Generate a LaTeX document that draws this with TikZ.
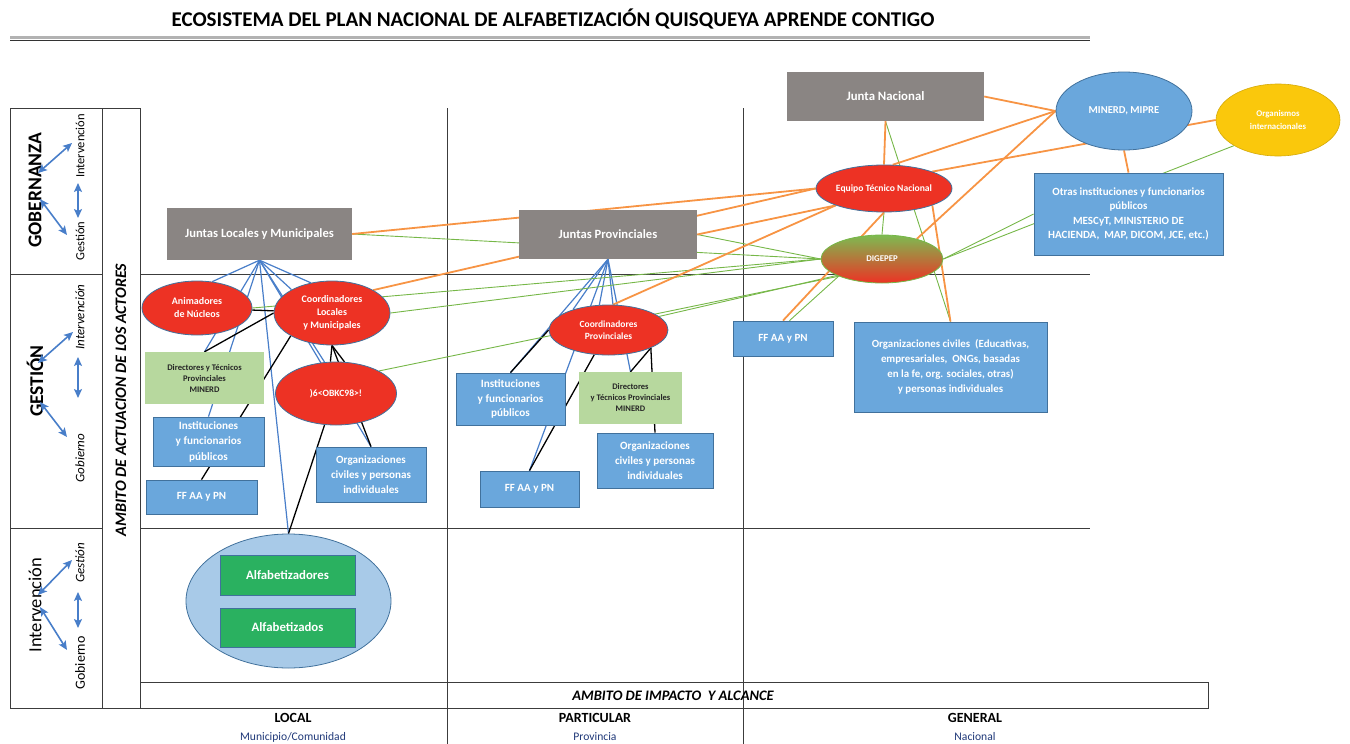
\documentclass[tikz,border=0pt]{standalone}
\usepackage{fontspec}
\setmainfont{Carlito}
\usetikzlibrary{shapes.geometric,arrows.meta,calc}
\pgfdeclarelayer{bg}
\pgfsetlayers{bg,main}
\definecolor{jgray}{RGB}{138,133,131}
\definecolor{nred}{RGB}{237,50,36}
\definecolor{nblue}{RGB}{106,167,220}
\definecolor{bord}{RGB}{65,113,156}
\definecolor{lgreen}{RGB}{183,216,158}
\definecolor{dgreen}{RGB}{42,177,96}
\definecolor{lblue}{RGB}{168,202,232}
\definecolor{gold}{RGB}{250,200,12}
\definecolor{lorange}{RGB}{247,148,68}
\definecolor{lgr}{RGB}{118,183,72}
\definecolor{lblu}{RGB}{72,126,201}
\definecolor{navy}{RGB}{31,56,120}
\definecolor{gridc}{RGB}{60,60,60}
\tikzset{
  sz/.style 2 args={minimum width=#1pt, minimum height=#2pt},
  fs/.style 2 args={font=\fontsize{#1}{#2}\selectfont\bfseries},
  graybox/.style={rectangle, fill=jgray, text=white, inner sep=0pt, align=center},
  redell/.style={ellipse, fill=nred, draw=bord, line width=0.8pt, text=white, inner sep=0pt, align=center},
  bluebox/.style={rectangle, fill=nblue, draw=bord, line width=0.8pt, text=white, inner sep=0pt, align=center},
  greenbox/.style={rectangle, fill=lgreen, text=black!85, inner sep=0pt, align=center},
  alfbox/.style={rectangle, fill=dgreen, draw=bord, line width=0.8pt, text=white, inner sep=0pt, align=center},
  ora/.style={draw=lorange, line width=1.8pt},
  grn/.style={draw=lgr, line width=0.9pt},
  blu/.style={draw=lblu, line width=1.2pt},
  blk/.style={draw=black, line width=1.3pt},
  gridline/.style={draw=gridc, line width=0.9pt},
  larrow/.style={{Stealth[length=9pt,width=8pt,inset=2pt]}-{Stealth[length=9pt,width=8pt,inset=2pt]}, draw=lblu, line width=1.6pt},
  rlabel/.style={rotate=90, inner sep=0pt},
}
\begin{document}
\begin{tikzpicture}[x=1pt,y=-1pt]
\useasboundingbox (0,0) rectangle (1350,744);

% title
\node (title) at (553,19) {\fontsize{21}{24}\selectfont\bfseries ECOSISTEMA DEL PLAN NACIONAL DE ALFABETIZACIÓN QUISQUEYA APRENDE CONTIGO};
\draw[gray!60, line width=2.2pt] (10,37.5) -- (1090,37.5);
\draw[black!80, line width=0.8pt] (10,40.8) -- (1090,40.8);

% left panel labels
\node[rlabel, font=\fontsize{19.5}{22}\selectfont\bfseries] (gob) at (35,190) {GOBERNANZA};
\node[rlabel, font=\fontsize{12.5}{14}\selectfont] (gobi) at (80,146) {Intervención};
\node[rlabel, font=\fontsize{12.5}{14}\selectfont] (gobg) at (80,241) {Gestión};
\node[rlabel, font=\fontsize{19.5}{22}\selectfont\bfseries] (ges) at (35,381) {GESTIÓN};
\node[rlabel, font=\fontsize{13}{15}\selectfont\itshape] (gesi) at (80,317) {Intervención};
\node[rlabel, font=\fontsize{13}{15}\selectfont\itshape] (gesg) at (80,458) {Gobierno};
\node[rlabel, font=\fontsize{18.5}{21}\selectfont] (int) at (35,605) {Intervención};
\node[rlabel, font=\fontsize{13}{15}\selectfont\itshape] (intg) at (80,563) {Gestión};
\node[rlabel, font=\fontsize{14}{16}\selectfont] (intb) at (80,663) {Gobierno};
\node[rlabel, font=\fontsize{16}{18}\selectfont\bfseries\itshape] (actu) at (121,400) {AMBITO DE ACTUACION DE LOS ACTORES};

% arrow end points
\coordinate (p1a) at (38,173); \coordinate (p1b) at (72,143);
\coordinate (p2a) at (40,199); \coordinate (p2b) at (67,235);
\coordinate (p3a) at (78,183); \coordinate (p3b) at (78,218);
\coordinate (q1a) at (38,363); \coordinate (q1b) at (73,332);
\coordinate (q2a) at (40,402); \coordinate (q2b) at (67,437);
\coordinate (q3a) at (78,357); \coordinate (q3b) at (78,398);
\coordinate (r1a) at (38,595); \coordinate (r1b) at (72,560);
\coordinate (r2a) at (40,607); \coordinate (r2b) at (67,650);
\coordinate (r3a) at (78,592); \coordinate (r3b) at (78,628);
\foreach \s in {p,q,r}{\foreach \i in {1,2,3}{\draw[larrow] (\s\i a) -- (\s\i b);}}

% bottom labels
\node (impact) at (673,696) {\fontsize{14.5}{16}\selectfont\bfseries\itshape AMBITO DE IMPACTO\ \ Y ALCANCE};
\node (loc) at (293,718) {\fontsize{14}{16}\selectfont\bfseries LOCAL};
\node[text=navy] (locs) at (293,737) {\fontsize{11.6}{13}\selectfont Municipio/Comunidad};
\node (par) at (595,718) {\fontsize{14}{16}\selectfont\bfseries PARTICULAR};
\node[text=navy] (pars) at (595,737) {\fontsize{11.6}{13}\selectfont Provincia};
\node (gen) at (975,718) {\fontsize{14}{16}\selectfont\bfseries GENERAL};
\node[text=navy] (gens) at (975,737) {\fontsize{11.6}{13}\selectfont Nacional};

% ---------- nodes: general ----------
\node[graybox, sz={197}{49}, fs={12.8}{15}] (jn) at (885.5,96.5) {Junta Nacional};
\node[ellipse, fill=nblue, draw=bord, line width=0.8pt, text=white, inner sep=0pt, sz={136}{78}, fs={10.6}{12}] (minerd) at (1124,111) {MINERD, MIPRE};
\node[ellipse, fill=gold, draw=gold!85!black, line width=0.6pt, text=white, inner sep=0pt, align=center, sz={124}{72}, fs={8.8}{13}] (orgint) at (1278,120) {Organismos\\internacionales};
\node[redell, sz={134}{47}, fs={9.6}{11}] (etn) at (884,188.5) {Equipo Técnico Nacional};
\node[ellipse, top color=lgr!95!white, bottom color=nred, draw=lgr, line width=0.8pt, text=white, inner sep=0pt, sz={122}{48}, fs={8.8}{10}] (dig) at (882,259) {DIGEPEP};
\node[bluebox, sz={189}{82}, fs={11}{14.5}] (otras) at (1128.5,214) {Otras instituciones y funcionarios\\públicos\\MESCyT, MINISTERIO DE\\HACIENDA,\ \ MAP, DICOM, JCE, etc.)};
\node[bluebox, sz={100}{35}, fs={11}{12}] (ffg) at (783,338.5) {FF AA y PN};
\node[bluebox, sz={193}{90}, fs={10.9}{15}] (ocg) at (950.5,367) {Organizaciones civiles\ \ (Educativas,\\empresariales,\ \ ONGs, basadas\\en la fe, org. sociales, otras)\\y personas individuales};

% ---------- nodes: local ----------
\node[graybox, sz={185}{52}, fs={12.6}{15}] (jl) at (259.5,234) {Juntas Locales y Municipales};
\node[redell, sz={110}{54}, fs={10}{13}] (anim) at (197,308) {Animadores\\de Núcleos};
\node[redell, sz={116}{64}, fs={10}{13}] (cloc) at (332,313) {Coordinadores\\Locales\\y Municipales};
\node[greenbox, sz={119}{52}, fs={8.6}{11}] (dirl) at (204.5,378) {Directores y Técnicos\\Provinciales\\MINERD};
\node[redell, sz={121}{63}, fs={9.6}{11}] (obkc) at (336,393.5) {)6<OBKC98>!};
\node[bluebox, sz={111}{49}, fs={11.2}{15.5}] (instl) at (208.5,441.5) {Instituciones\\y funcionarios\\públicos};
\node[bluebox, sz={111}{34}, fs={11}{12}] (ffl) at (201.5,497) {FF AA y PN};
\node[bluebox, sz={110}{55}, fs={11.1}{15}] (ocl) at (371,474.5) {Organizaciones\\civiles y personas\\individuales};
\node[ellipse, fill=lblue, draw=bord, line width=0.8pt, inner sep=0pt, sz={205}{134}] (big) at (288.5,601) {};
\node[alfbox, sz={135}{40}, fs={12.8}{14}] (alfa1) at (287.5,575) {Alfabetizadores};
\node[alfbox, sz={135}{39}, fs={12.8}{14}] (alfa2) at (287.5,627.5) {Alfabetizados};

% ---------- nodes: particular ----------
\node[graybox, sz={178}{49}, fs={12.6}{15}] (jp) at (608,234.5) {Juntas Provinciales};
\node[redell, sz={119}{50}, fs={9.5}{12}] (cprov) at (608.5,330) {Coordinadores\\Provinciales};
\node[bluebox, sz={109}{52}, fs={11.2}{14.5}] (instp) at (510.5,399) {Instituciones\\y funcionarios\\públicos};
\node[greenbox, sz={103}{52}, fs={8.5}{11}] (dirp) at (630.5,398) {Directores\\y Técnicos Provinciales\\MINERD};
\node[bluebox, sz={99}{36}, fs={11}{12}] (ffp) at (529.5,489) {FF AA y PN};
\node[bluebox, sz={116}{55}, fs={11.1}{15}] (ocp) at (655,460.5) {Organizaciones\\civiles y personas\\individuales};

\begin{pgfonlayer}{bg}
% grid
\draw[gridline] (10,108) rectangle (140,708);
\draw[gridline] (102,108) -- (102,708);
\draw[gridline] (10,274) -- (102,274);
\draw[gridline] (10,528) -- (102,528);
\draw[gridline] (140,274) -- (1090,274);
\draw[gridline] (140,528) -- (1090,528);
\draw[gridline] (447,108) -- (447,744);
\draw[gridline] (743,108) -- (743,744);
\draw[gridline] (140,682) rectangle (1208,708);

% local: blue fan
\draw[blu] (jl.south) -- (anim.60);
\draw[blu] (jl.south) -- (dirl.north);
\draw[blu] (jl.south) -- (instl.north);
\draw[blu] (jl.south) -- (big.north);
\draw[blu] (jl.south) -- (cloc.150);
\draw[blu] (jl.south) -- (cloc.125);
\draw[blu] (jl.south) -- (obkc.110);
\draw[blu] (jl.south) -- (ocl.north);
% local: black
\draw[blk] (anim) -- (cloc);
\draw[blk] (cloc.west) -- (dirl.north);
\draw[blk] (cloc.south west) -- (ffl.north);
\draw[blk] (cloc.south) -- (obkc.100);
\draw[blk] (cloc.south) -- (obkc.75);
\draw[blk] (cloc.south) -- (ocl.north);
\draw[blk] (obkc.250) -- (big.north);
\draw[blu] (alfa1.south) -- (alfa2.north);

% particular: blue fan
\draw[blu] (jp.south) -- (cprov.150);
\draw[blu] (jp.south) -- (cprov.110);
\draw[blu] (jp.south) -- (cprov.80);
\draw[blu] (jp.south) -- (instp.north);
\draw[blu] (jp.south) -- (ffp.north);
\draw[blu] (jp.south) -- (dirp.north);
% particular: black
\draw[blk] (cprov.west) -- (instp.north);
\draw[blk] (cprov.240) -- (ffp.north);
\draw[blk] (cprov.south east) -- (dirp.north);
\draw[blk] (cprov.south east) -- (ocp.north);

% green to DIGEPEP
\draw[grn] (jl.east) -- (dig.west);
\draw[grn] (jp.east) -- (dig.west);
\draw[grn] (anim.east) -- (dig.west);
\draw[grn] (cloc.east) -- (dig.west);
\draw[grn] (obkc.north east) -- (dig.south west);
\draw[grn] (cprov.15) -- (dig.200);
\draw[grn] (dig.south west) -- (ffg.70);
\draw[grn] (etn.south) -- (dig.north);
\draw[grn] (jn.south) -- (ocg.north);
\draw[grn] (orgint.south west) -- (dig.east);
\draw[grn] (otras.west) -- (dig.east);

% orange
\draw[ora] (jl.east) -- (etn.west);
\draw[ora] (jp.east) -- (etn.south west);
\draw[ora] (cloc.north east) -- (etn.west);
\draw[ora] (cprov.80) -- (etn.south west);
\draw[ora] (etn.south) -- (ffg.north);
\draw[ora] (etn.south east) -- (ocg.north);
\draw[ora] (jn.south) -- (etn.north);
\draw[ora] (jn.east) -- (minerd.west);
\draw[ora] (minerd.west) -- (etn.70);
\draw[ora] (minerd.west) -- (dig.30);
\draw[ora] (etn.north east) -- (orgint.west);
\draw[ora] (minerd.south) -- (otras.north);
\end{pgfonlayer}
\end{tikzpicture}
\end{document}
